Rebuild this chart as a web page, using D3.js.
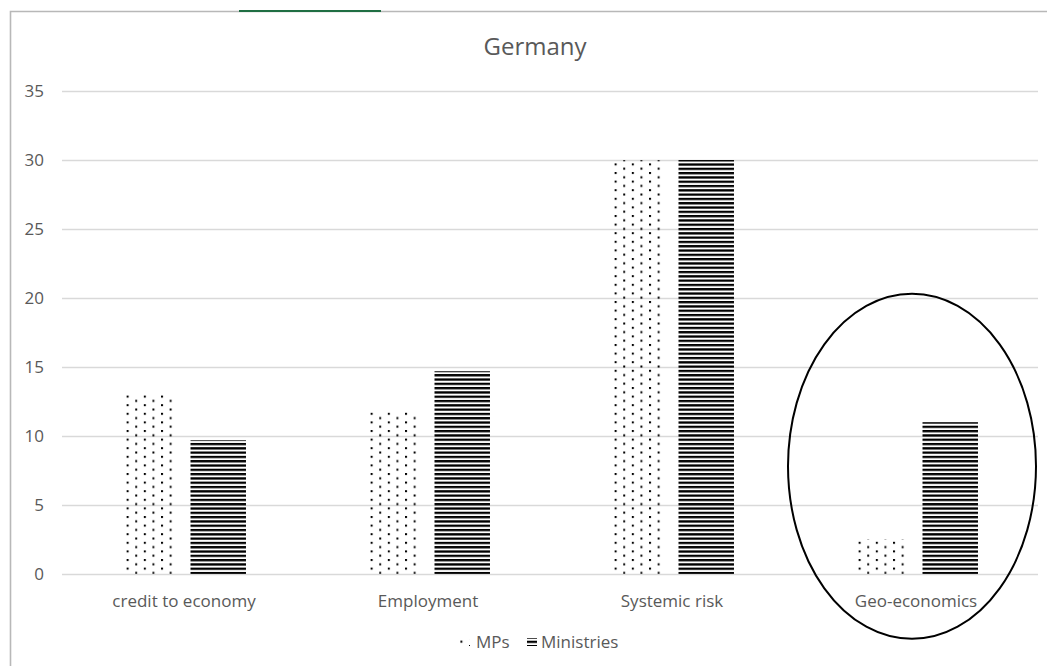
<!DOCTYPE html>
<html>
<head>
<meta charset="utf-8">
<script src="https://cdn.jsdelivr.net/npm/d3@7"></script>
<style>
  html, body { margin: 0; padding: 0; background: #fff; }
  svg { display: block; }
  text { font-family: "Open Sans", sans-serif; fill: #595959; }
</style>
</head>
<body>
<svg id="chart" width="1047" height="666"></svg>
<script>
const categories = ["credit to economy", "Employment", "Systemic risk", "Geo-economics"];
const seriesNames = ["MPs", "Ministries"];
const mps = [13, 11.8, 30, 2.5];
const ministries = [9.7, 14.7, 30, 11];
const yTicks = [0, 5, 10, 15, 20, 25, 30, 35];
const title = "Germany";
const highlightCategory = "Geo-economics";
const highlightRange = [-4.7, 20.3];

const svg = d3.select("#chart");
const W = 1047, H = 666;
const plot = { left: 62, right: 1038, top: 91, bottom: 574 };

// patterns
const defs = svg.append("defs");
const pDots = defs.append("pattern").attr("id", "dots")
  .attr("patternUnits", "userSpaceOnUse").attr("width", 17.2).attr("height", 8.6)
  .attr("x", 125).attr("y", 0);
pDots.append("rect").attr("x", 0).attr("y", 0).attr("width", 2).attr("height", 2).attr("fill", "#000");
pDots.append("rect").attr("x", 8.6).attr("y", 4.3).attr("width", 2).attr("height", 2).attr("fill", "#000");
const pStripes = defs.append("pattern").attr("id", "stripes")
  .attr("patternUnits", "userSpaceOnUse").attr("width", 10).attr("height", 4.3);
pStripes.append("rect").attr("x", 0).attr("y", 0).attr("width", 10).attr("height", 2.3).attr("fill", "#000");

// background + frame
svg.append("rect").attr("width", W).attr("height", H).attr("fill", "#fff");
svg.append("path").attr("d", `M10.5,${H} L10.5,11.5 L${W},11.5`)
  .attr("fill", "none").attr("stroke", "#b8b8b8").attr("stroke-width", 1.6);
svg.append("line").attr("x1", 239).attr("x2", 381).attr("y1", 11).attr("y2", 11)
  .attr("stroke", "#1f6e43").attr("stroke-width", 2.2);

// scales
const y = d3.scaleLinear().domain([0, 35]).range([plot.bottom, plot.top]);
const x0 = d3.scaleBand().domain(categories).range([plot.left, plot.right])
  .paddingInner(0.492).paddingOuter(0.246);
const x1 = d3.scaleBand().domain(seriesNames).range([0, x0.bandwidth()])
  .paddingInner(0.19).paddingOuter(0);

// gridlines
svg.append("g").selectAll("line").data(yTicks).join("line")
  .attr("x1", plot.left).attr("x2", plot.right)
  .attr("y1", d => Math.round(y(d)) + 0.5).attr("y2", d => Math.round(y(d)) + 0.5)
  .attr("stroke", "#d9d9d9").attr("stroke-width", 1.3);

// y axis labels
const yAxis = d3.axisLeft(y).tickValues(yTicks).tickSize(0).tickPadding(0);
const gy = svg.append("g").attr("transform", `translate(44,0)`).call(yAxis);
gy.select(".domain").remove();
gy.selectAll("text").style("font-size", "17px").style("fill", "#595959")
  .style("font-family", "'Open Sans', sans-serif").attr("dy", "0.35em");

// bars
const data = categories.map((c, i) => ({ cat: c, vals: [
  { s: "MPs", v: mps[i] }, { s: "Ministries", v: ministries[i] } ] }));
const groups = svg.append("g").selectAll("g").data(data).join("g")
  .attr("transform", d => `translate(${x0(d.cat)},0)`);
groups.selectAll("rect").data(d => d.vals).join("rect")
  .attr("x", d => x1(d.s))
  .attr("width", x1.bandwidth())
  .attr("y", d => y(d.v))
  .attr("height", d => y(0) - y(d.v))
  .attr("fill", d => d.s === "MPs" ? "url(#dots)" : "url(#stripes)");

// x axis labels
const xAxis = d3.axisBottom(x0).tickSize(0).tickPadding(0);
const gx = svg.append("g").attr("transform", `translate(0,${plot.bottom + 27})`).call(xAxis);
gx.select(".domain").remove();
gx.selectAll("text").style("font-size", "17px").style("fill", "#595959")
  .style("font-family", "'Open Sans', sans-serif").attr("dy", "0.35em");

// title
svg.append("text").attr("x", 535).attr("y", 55).attr("text-anchor", "middle")
  .style("font-size", "24px").text(title);

// legend
const leg = svg.append("g");
leg.append("rect").attr("x", 460).attr("y", 639).attr("width", 10).attr("height", 7)
  .attr("fill", "url(#dots)");
leg.append("text").attr("x", 476).attr("y", 642).attr("dy", "0.35em")
  .style("font-size", "17px").text(seriesNames[0]);
leg.append("rect").attr("x", 527).attr("y", 638).attr("width", 10).attr("height", 8)
  .attr("fill", "url(#stripes)");
leg.append("text").attr("x", 541).attr("y", 642).attr("dy", "0.35em")
  .style("font-size", "17px").text(seriesNames[1]);

// highlight ellipse
const cx = x0(highlightCategory) + x0.bandwidth() / 2 - 4;
svg.append("ellipse")
  .attr("cx", cx)
  .attr("cy", (y(highlightRange[0]) + y(highlightRange[1])) / 2)
  .attr("rx", 124)
  .attr("ry", (y(highlightRange[0]) - y(highlightRange[1])) / 2)
  .attr("fill", "none").attr("stroke", "#000").attr("stroke-width", 2);
</script>
</body>
</html>
